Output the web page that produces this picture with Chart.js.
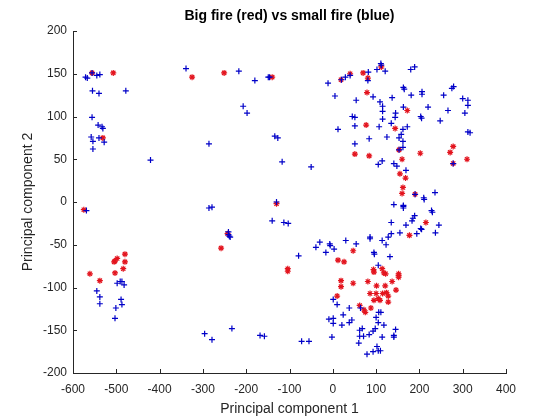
<!DOCTYPE html>
<html>
<head>
<meta charset="utf-8">
<script src="https://cdn.jsdelivr.net/npm/chart.js@4/dist/chart.umd.min.js"></script>
<style>
  html, body { margin: 0; padding: 0; background: #fff; }
  canvas { display: block; }
</style>
</head>
<body>
<canvas id="chart" width="560" height="420"></canvas>
<script>
// Big fire points (red stars), [PC1, PC2]
const bigFire = [
  [-556, 151], [-507, 151], [-531, 75], [-325, 146], [-251, 151], [-140, 146],
  [19, 143], [40, 150], [70, 151], [81, 145], [79, 128], [112, 158],
  [172, 107], [77, 90], [144, 86], [153, 61], [51, 56], [84, 54],
  [160, 50], [202, 57], [278, 65], [271, 58], [310, 50], [278, 45],
  [155, 33], [168, 28], [162, 17], [160, 10], [190, 9],
  [215, -24], [177, -39], [-104, -78], [-104, -81], [47, -57], [12, -68], [26, -70],
  [94, -79], [114, -78], [95, -82], [118, -83], [122, -84],
  [152, -84], [152, -86], [152, -88], [19, -92], [19, -99], [47, -95],
  [81, -93], [101, -98], [121, -98], [137, -93], [146, -103],
  [86, -107], [100, -107], [115, -107], [124, -106], [128, -110],
  [95, -115], [105, -113], [109, -115], [128, -117], [10, -110],
  [62, -121], [72, -126], [75, -129], [88, -124],
  [-575, -9], [-561, -84], [-538, -92], [-505, -70], [-503, -69], [-498, -66],
  [-503, -83], [-480, -61], [-480, -70], [-484, -78], [-243, -37], [-258, -54], [-130, -2]
];

// Small fire points (blue plusses), [PC1, PC2]
const smallFire = [
  [-571, 146], [-567, 145], [-556, 151], [-545, 148], [-538, 149], [-555, 130],
  [-540, 127], [-478, 130], [-556, 99], [-542, 90], [-533, 88], [-531, 86],
  [-558, 76], [-554, 71], [-540, 75], [-528, 70], [-554, 62], [-421, 49],
  [-339, 156], [-217, 153], [-180, 142], [-149, 146], [-146, 146], [-207, 112],
  [-198, 104], [-286, 68], [-134, 77], [-127, 75], [-117, 47],
  [-50, 41], [-11, 139], [5, 124], [12, 85], [20, 143], [29, 146], [40, 148],
  [82, 152], [81, 142], [54, 119], [93, 123], [102, 155], [111, 162], [112, 160],
  [121, 153], [109, 117], [115, 112], [115, 106], [115, 97], [137, 122],
  [145, 104], [144, 99], [163, 111], [163, 134], [165, 132], [180, 155], [189, 158],
  [181, 125], [206, 129], [206, 126], [220, 111], [256, 125], [275, 133],
  [279, 135], [300, 121], [312, 119], [312, 113], [305, 104], [266, 107],
  [248, 95], [203, 100], [205, 98], [45, 100], [51, 99], [51, 89], [107, 88],
  [135, 92], [162, 85], [172, 88], [158, 79], [162, 71], [153, 75], [162, 64],
  [153, 61], [84, 74], [125, 76], [51, 68], [312, 82], [317, 81], [278, 45],
  [105, 44], [114, 48], [141, 45], [148, 42], [169, 37], [190, 9],
  [210, 5], [211, 3], [236, 11],
  [141, -3], [163, -4], [163, -5], [163, -7], [228, -10], [230, -12],
  [189, -16], [185, -19], [183, -22], [245, -27], [169, -27], [135, -24],
  [203, -31], [205, -32], [237, -36], [194, -37], [155, -36], [135, -37],
  [128, -41], [114, -45], [123, -50], [86, -41], [86, -43], [95, -59], [96, -61],
  [132, -64], [105, -74], [-113, -24], [-103, -25], [-79, -63], [-39, -53],
  [-30, -47], [-16, -59], [-7, -49], [-6, -51], [3, -55], [30, -45], [54, -49],
  [1, -114], [10, -120], [38, -124], [64, -124], [24, -132], [-9, -137],
  [1, -136], [1, -142], [38, -141], [44, -138], [21, -144], [100, -135],
  [106, -129], [111, -129], [105, -141], [118, -144], [145, -149], [141, -156],
  [141, -158], [62, -150], [68, -148], [71, -157], [62, -157], [84, -155],
  [93, -151], [98, -148], [114, -158], [60, -165], [-2, -158], [-72, -163],
  [-55, -163], [79, -178], [93, -175], [102, -169], [105, -174], [110, -174],
  [-569, -10], [-545, -104], [-538, -111], [-538, -119], [-498, -95], [-491, -93],
  [-487, -93], [-482, -97], [-489, -114], [-487, -120], [-501, -124], [-503, -136],
  [-286, -7], [-279, -6], [-241, -35], [-241, -38], [-239, -40], [-237, -41],
  [-130, 0], [-140, -22], [-296, -154], [-279, -161], [-233, -148], [-168, -156],
  [-158, -157]
];

const xTicks = [-600, -500, -400, -300, -200, -100, 0, 100, 200, 300, 400];
const yTicks = [-200, -150, -100, -50, 0, 50, 100, 150, 200];
const titleText = 'Big fire (red) vs small fire (blue)';

const toPoints = arr => arr.map(p => ({ x: p[0], y: p[1] }));
const FONT = 'Arial, "Liberation Sans", Helvetica, sans-serif';
const AXIS_COLOR = '#262626';

// matlab-style inward ticks + title centred over the axes box
const axesDecor = {
  id: 'axesDecor',
  afterDraw(chart) {
    const { ctx, chartArea, scales } = chart;
    ctx.save();
    ctx.strokeStyle = AXIS_COLOR;
    ctx.lineWidth = 1;
    ctx.beginPath();
    xTicks.forEach(v => {
      const px = Math.round(scales.x.getPixelForValue(v)) + 0.5;
      ctx.moveTo(px, chartArea.bottom);
      ctx.lineTo(px, chartArea.bottom - 4);
    });
    yTicks.forEach(v => {
      const py = Math.round(scales.y.getPixelForValue(v)) + 0.5;
      ctx.moveTo(chartArea.left, py);
      ctx.lineTo(chartArea.left + 4, py);
    });
    ctx.stroke();

    ctx.fillStyle = '#000';
    ctx.font = 'bold 14px ' + FONT;
    ctx.textAlign = 'center';
    ctx.textBaseline = 'middle';
    ctx.fillText(titleText, (chartArea.left + chartArea.right) / 2, 16);
    ctx.restore();
  }
};

new Chart(document.getElementById('chart'), {
  type: 'scatter',
  data: {
    datasets: [
      {
        label: 'small fire',
        data: toPoints(smallFire),
        pointStyle: 'cross',
        pointRadius: 3,
        borderColor: '#0000c8',
        backgroundColor: '#0000c8',
        borderWidth: 1.2
      },
      {
        label: 'big fire',
        data: toPoints(bigFire),
        pointStyle: 'star',
        pointRadius: 3,
        borderColor: '#e3141e',
        backgroundColor: '#e3141e',
        borderWidth: 1.2
      }
    ]
  },
  options: {
    responsive: false,
    animation: false,
    layout: { padding: { left: 0, right: 54, top: 31, bottom: 0 } },
    plugins: {
      legend: { display: false },
      tooltip: { enabled: false },
      title: { display: false }
    },
    scales: {
      x: {
        type: 'linear',
        min: -600,
        max: 400,
        afterBuildTicks: s => { s.ticks = xTicks.map(v => ({ value: v })); },
        afterFit: s => { s.height = 47; },
        grid: { display: false, drawTicks: false },
        border: { display: true, color: AXIS_COLOR, width: 1 },
        ticks: { color: AXIS_COLOR, font: { family: FONT, size: 12 }, padding: 9, maxRotation: 0 },
        title: {
          display: true,
          text: 'Principal component 1',
          color: AXIS_COLOR,
          font: { family: FONT, size: 14, lineHeight: 1.2 },
          padding: { top: 0, bottom: 2.6 }
        }
      },
      y: {
        type: 'linear',
        min: -200,
        max: 200,
        afterBuildTicks: s => { s.ticks = yTicks.map(v => ({ value: v })); },
        afterFit: s => { s.width = 73; },
        grid: { display: false, drawTicks: false },
        border: { display: true, color: AXIS_COLOR, width: 1 },
        ticks: { color: AXIS_COLOR, font: { family: FONT, size: 12 }, padding: 6 },
        title: {
          display: true,
          text: 'Principal component 2',
          color: AXIS_COLOR,
          font: { family: FONT, size: 14, lineHeight: 1.2 },
          padding: { top: 19.6, bottom: 0 }
        }
      }
    }
  },
  plugins: [axesDecor]
});
</script>
</body>
</html>
